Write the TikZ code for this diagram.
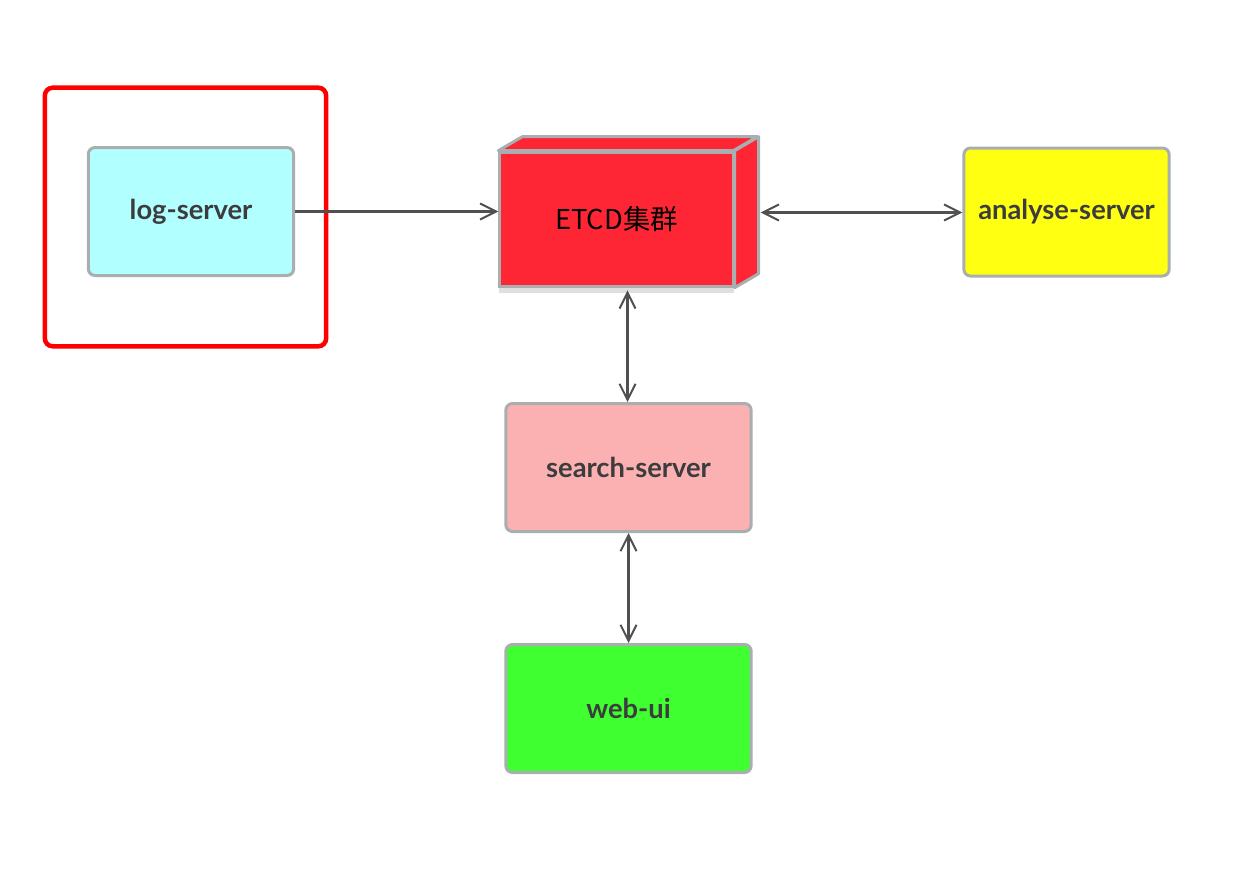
\documentclass[tikz,border=0pt]{standalone}
\usepackage{fontspec}
\setmainfont{Lato}
\newfontfamily\cjk{Noto Sans CJK SC}
\usetikzlibrary{arrows.meta,calc}
\definecolor{bordergray}{HTML}{A9AEB0}
\definecolor{txtgray}{HTML}{3C3C3E}
\definecolor{conngray}{HTML}{505050}
\definecolor{logfill}{HTML}{B2FFFF}
\definecolor{etcdfill}{HTML}{FE2635}
\definecolor{anafill}{HTML}{FFFF11}
\definecolor{searchfill}{HTML}{FBB1B2}
\definecolor{webfill}{HTML}{3FFF30}
\definecolor{framered}{HTML}{FE0000}
\begin{document}
\begin{tikzpicture}[x=0.75pt,y=-0.75pt,
  svc/.style={draw=bordergray,line width=2.25pt,rounded corners=5pt,
    minimum width=154pt,minimum height=96pt,inner sep=0pt,
    font=\fontsize{20.5}{24}\selectfont\bfseries,text=txtgray},
  conn/.style={draw=conngray,line width=1.6pt},
  vtip/.tip={Straight Barb[length=12pt,width=12pt,line width=1.5pt]}]
\useasboundingbox (0,0) rectangle (1246,878);
% red frame
\node[draw=framered,line width=3.4pt,rounded corners=6pt,
  minimum width=211pt,minimum height=194pt] (frame) at (185.5,217) {};
% services
\node[svc,fill=logfill] (log) at (191,211.5) {log-server};
\node[svc,fill=anafill] (ana) at (1066.5,212) {analyse-server};
\node[svc,fill=searchfill,minimum width=184pt] (search) at (628.5,467.5) {search-server};
\node[svc,fill=webfill,minimum width=184pt] (web) at (628.5,708.5) {web-ui};
% ETCD box
\fill[gray!25] (499,288) rectangle (734,293);
\node[draw=bordergray,line width=2.25pt,fill=etcdfill,minimum width=175pt,
  minimum height=101pt,inner sep=0pt,font=\cjk\fontsize{20.5}{24}\selectfont,
  text=black] (etcd) at (616.5,219.5) {ETCD集群};
\draw[draw=bordergray,line width=2.25pt,fill=etcdfill,line join=round]
  (etcd.north west) -- ++(24,-14) -- ++(235,0) -- ++(-24,14) -- cycle;
\draw[draw=bordergray,line width=2.25pt,fill=etcdfill,line join=round]
  (etcd.north east) -- ++(24,-14) -- ++(0,137) -- ++(-24,14) -- cycle;
\coordinate (etcdR) at ($(etcd.east)+(26,-7)$);
\coordinate (etcdS) at ($(etcd.south)+(11,2)$);
% connectors
\draw[conn,-{vtip}] (log.east) -- (log.east -| etcd.west);
\draw[conn,{vtip}-{vtip}] (etcdR) -- (etcdR -| ana.west);
\draw[conn,{vtip}-{vtip}] (etcdS) -- (etcdS |- search.north);
\draw[conn,{vtip}-{vtip}] (search.south) -- (web.north);
\end{tikzpicture}
\end{document}
